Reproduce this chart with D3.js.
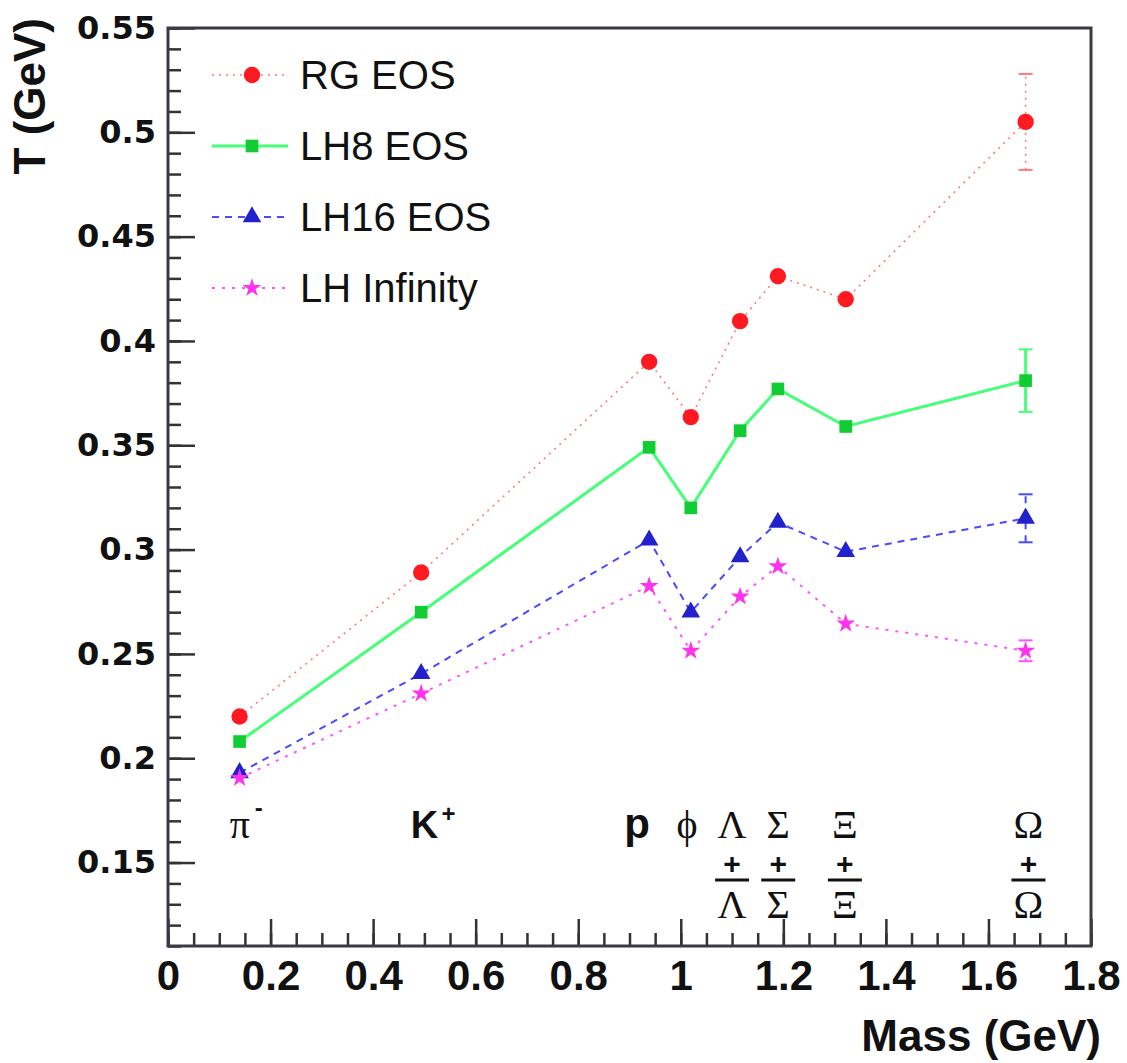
<!DOCTYPE html>
<meta charset="utf-8">
<script src="https://d3js.org/d3.v7.min.js"></script>
<style>
  body { margin: 0; background: #fff; }
  .ylab text { font-family: "DejaVu Sans"; font-weight: bold; font-size: 32px; fill: #111; }
  .xlab text { font-family: "Liberation Sans"; font-weight: bold; font-size: 42px; fill: #111; }
  .legend text { font-family: "Liberation Sans"; font-size: 40px; fill: #111; }
  .title { font-family: "Liberation Sans"; font-weight: bold; font-size: 44px; fill: #111; }
  .greek { font-family: "Liberation Serif"; font-size: 40px; fill: #111; }
  .sans { font-family: "Liberation Sans"; font-weight: bold; fill: #111; }
</style>
<div id="chart"></div>
<script>

// particle masses (GeV) and fitted temperatures
var particles = ["π", "K", "p", "ϕ", "Λ", "Σ", "Ξ", "Ω"];
var mass = [0.1396, 0.4937, 0.9383, 1.0195, 1.1157, 1.1894, 1.3217, 1.6725];
var labelPos = [0.14, 0.50, 0.915, 1.012, 1.10, 1.19, 1.32, 1.678];
var rgEOS   = [0.220, 0.289, 0.390, 0.3635, 0.4095, 0.431, 0.420, 0.505];
var lh8EOS  = [0.208, 0.270, 0.349, 0.320, 0.357, 0.377, 0.359, 0.381];
var lh16EOS = [0.193, 0.2405, 0.3045, 0.270, 0.2965, 0.313, 0.299, 0.315];
var lhInf   = [0.1905, 0.231, 0.2825, 0.2515, 0.2775, 0.292, 0.2645, 0.2515];
var rgErr   = [0, 0, 0, 0, 0, 0, 0, 0.023];
var lh8Err  = [0, 0, 0, 0, 0, 0, 0, 0.015];
var lh16Err = [0, 0, 0, 0, 0, 0, 0, 0.0115];
var lhInfErr= [0, 0, 0, 0, 0, 0, 0, 0.005];
var xTicks = [0, 0.2, 0.4, 0.6, 0.8, 1, 1.2, 1.4, 1.6, 1.8];
var yTicks = [0.15, 0.2, 0.25, 0.3, 0.35, 0.4, 0.45, 0.5, 0.55];

var W = 1127, H = 1063;
var margin = {top: 28, right: 36, bottom: 117, left: 168};
var width = W - margin.left - margin.right,
    height = H - margin.top - margin.bottom;

var svg = d3.select("#chart").append("svg")
    .attr("width", W).attr("height", H)
  .append("g")
    .attr("transform", "translate(" + margin.left + "," + margin.top + ")");

var x = d3.scaleLinear().domain([0, 1.8]).range([0, width]);
var y = d3.scaleLinear().domain([0.11, 0.55]).range([height, 0]);

// minor ticks
svg.append("g")
  .attr("transform", "translate(0," + height + ")")
  .call(d3.axisBottom(x).tickValues(d3.range(0, 1.801, 0.05)).tickSize(-13).tickFormat(""))
  .call(function(g){ g.select(".domain").remove(); });
svg.append("g")
  .call(d3.axisLeft(y).tickValues(d3.range(0.11, 0.5501, 0.01)).tickSize(-13).tickFormat(""))
  .call(function(g){ g.select(".domain").remove(); });

// major ticks + labels
svg.append("g").attr("class", "xlab")
  .attr("transform", "translate(0," + height + ")")
  .call(d3.axisBottom(x).tickValues(xTicks).tickSize(-27).tickPadding(14).tickFormat(d3.format("")))
  .call(function(g){ g.select(".domain").remove(); });
svg.append("g").attr("class", "ylab")
  .call(d3.axisLeft(y).tickValues(yTicks).tickSize(-27).tickPadding(12).tickFormat(d3.format("")))
  .call(function(g){ g.select(".domain").remove(); });

svg.selectAll(".tick line").attr("stroke", "#333").attr("stroke-width", 2.5);

// frame
svg.append("rect")
  .attr("width", width).attr("height", height)
  .attr("fill", "none").attr("stroke", "#3a3a44").attr("stroke-width", 3);

// axis titles
svg.append("text").attr("class", "title")
  .attr("x", width + 10).attr("y", height + 105)
  .attr("text-anchor", "end").text("Mass (GeV)");
svg.append("text").attr("class", "title")
  .attr("transform", "translate(" + (-123) + "," + (-10) + ") rotate(-90)")
  .attr("text-anchor", "end").text("T (GeV)");

var series = [
  {name: "RG EOS", v: rgEOS, e: rgErr, line: "#ff7777", lw: 1.6, dash: "2,5", mark: "#ff1a22", sym: d3.symbolCircle, size: 210},
  {name: "LH8 EOS", v: lh8EOS, e: lh8Err, line: "#44ff77", lw: 3, dash: null, mark: "#11cc33", sym: d3.symbolSquare, size: 160},
  {name: "LH16 EOS", v: lh16EOS, e: lh16Err, line: "#4a4aff", lw: 2, dash: "7,6", mark: "#2222cc", sym: d3.symbolTriangle, size: 150},
  {name: "LH Infinity", v: lhInf, e: lhInfErr, line: "#ff55ff", lw: 2, dash: "3,7", mark: "#ff33ee", sym: d3.symbolStar, size: 110}
];

var line = d3.line().x(function(d){ return x(d[0]); }).y(function(d){ return y(d[1]); });

series.forEach(function(s){
  var pts = mass.map(function(m, i){ return [m, s.v[i], s.e[i]]; });
  svg.append("path")
    .attr("d", line(pts))
    .attr("fill", "none").attr("stroke", s.line)
    .attr("stroke-width", s.lw).attr("stroke-dasharray", s.dash);

  var eb = svg.append("g").selectAll("g").data(pts.filter(function(p){ return p[2] > 0; })).enter().append("g");
  eb.append("line")
    .attr("x1", function(d){ return x(d[0]); }).attr("x2", function(d){ return x(d[0]); })
    .attr("y1", function(d){ return y(d[1] - d[2]); }).attr("y2", function(d){ return y(d[1] + d[2]); })
    .attr("stroke", s.line).attr("stroke-width", s.lw).attr("stroke-dasharray", s.dash);
  [-1, 1].forEach(function(sg){
    eb.append("line")
      .attr("x1", function(d){ return x(d[0]) - 7; }).attr("x2", function(d){ return x(d[0]) + 7; })
      .attr("y1", function(d){ return y(d[1] + sg * d[2]); }).attr("y2", function(d){ return y(d[1] + sg * d[2]); })
      .attr("stroke", s.line).attr("stroke-width", 2);
  });

  svg.append("g").selectAll("path").data(pts).enter().append("path")
    .attr("d", d3.symbol().type(s.sym).size(s.size))
    .attr("transform", function(d){ return "translate(" + x(d[0]) + "," + y(d[1]) + ")"; })
    .attr("fill", s.mark);
});

// legend
var legend = svg.append("g").attr("class", "legend")
  .selectAll("g").data(series).enter().append("g")
  .attr("transform", function(d, i){ return "translate(44," + (47 + i * 71) + ")"; });
legend.append("line")
  .attr("x1", 0).attr("x2", 76)
  .attr("stroke", function(d){ return d.line; })
  .attr("stroke-width", function(d){ return d.lw; })
  .attr("stroke-dasharray", function(d){ return d.dash; });
legend.append("path")
  .attr("d", function(d){ return d3.symbol().type(d.sym).size(d.size)(); })
  .attr("transform", "translate(40,0)")
  .attr("fill", function(d){ return d.mark; });
legend.append("text")
  .attr("x", 88).attr("dy", "0.36em")
  .text(function(d){ return d.name; });

// particle labels
var labY = 810;   // baseline of the top row, in frame coordinates
var lab = svg.append("g");
// single labels: pi-, K+, p, phi
lab.append("text").attr("class", "greek").attr("x", x(labelPos[0])).attr("y", labY)
  .attr("text-anchor", "middle").text(particles[0]);
lab.append("text").attr("class", "sans").attr("x", x(labelPos[0]) + 19).attr("y", labY - 22)
  .attr("font-size", 24).attr("text-anchor", "middle").text("-");
lab.append("text").attr("class", "sans").attr("x", x(labelPos[1])).attr("y", labY)
  .attr("font-size", 38).attr("text-anchor", "middle").text(particles[1]);
lab.append("text").attr("class", "sans").attr("x", x(labelPos[1]) + 24).attr("y", labY - 16)
  .attr("font-size", 24).attr("text-anchor", "middle").text("+");
lab.append("text").attr("class", "sans").attr("x", x(labelPos[2])).attr("y", labY)
  .attr("font-size", 42).attr("text-anchor", "middle").text(particles[2]);
lab.append("text").attr("class", "greek").attr("x", x(labelPos[3])).attr("y", labY)
  .attr("text-anchor", "middle").text(particles[3]);

// stacked labels: X + anti-X
var stacked = lab.selectAll("g.stk").data(d3.range(4, 8)).enter().append("g")
  .attr("transform", function(i){ return "translate(" + x(labelPos[i]) + ",0)"; });
stacked.append("text").attr("class", "greek").attr("y", labY)
  .attr("text-anchor", "middle").text(function(i){ return particles[i]; });
stacked.append("text").attr("class", "sans").attr("y", labY + 36)
  .attr("font-size", 30).attr("text-anchor", "middle").text("+");
stacked.append("line").attr("x1", -17).attr("x2", 17)
  .attr("y1", labY + 42).attr("y2", labY + 42)
  .attr("stroke", "#111").attr("stroke-width", 3);
stacked.append("text").attr("class", "greek").attr("y", labY + 80)
  .attr("text-anchor", "middle").text(function(i){ return particles[i]; });

</script>
